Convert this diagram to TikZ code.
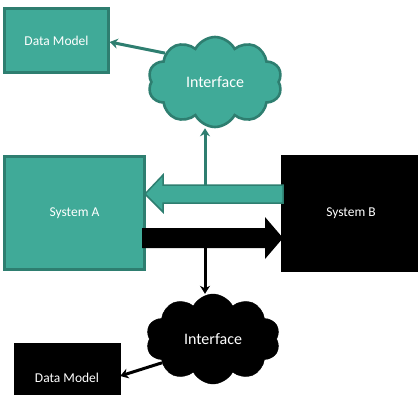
\documentclass[tikz,border=0pt]{standalone}
\usepackage{fontspec}
\setmainfont{Carlito}
\usetikzlibrary{arrows.meta,shapes.symbols}
\definecolor{tealfill}{HTML}{40AA98}
\definecolor{tealline}{HTML}{2E7E70}
\tikzset{
  tealbox/.style={draw=tealline, line width=2.4pt, fill=tealfill, text=white, font=\fontsize{13.5}{16}\selectfont, inner sep=0pt},
  blackbox/.style={draw=black, fill=black, text=white, font=\fontsize{13.5}{16}\selectfont, inner sep=0pt},
  cloudshape/.style={cloud, cloud puffs=10, cloud puff arc=125, cloud ignores aspect,
    minimum width=134pt, minimum height=90pt, inner sep=0pt, font=\fontsize{16}{19}\selectfont, text=white},
  tealcloud/.style={cloudshape, draw=tealline, line width=2.6pt, fill=tealfill},
  blackcloud/.style={cloudshape, draw=black, fill=black},
  conn/.style={line width=3pt, -{Stealth[length=8pt,width=10pt]}},
  blockarrow/.style={line width=1.5pt, line join=miter}
}
\begin{document}
\begin{tikzpicture}[x=1pt,y=-1pt]
\clip (0,0) rectangle (418,394);
\fill[white] (0,0) rectangle (418,394);

% boxes
\node[tealbox, minimum width=104pt, minimum height=64pt] (dmA) at (56.5,40.5) {Data Model};
\node[tealbox, minimum width=140pt, minimum height=113pt] (sysA) at (74.5,213) {System A};
\node[blackbox, minimum width=140pt, minimum height=116pt] (sysB) at (351,213) {System B};
\node[blackbox, minimum width=106pt, minimum height=70pt] (dmB) at (67,378) {Data Model};

% clouds
\node[tealcloud] (ifA) at (215,82) {Interface};
\node[blackcloud] (ifB) at (213,339) {Interface};

% block arrow from System B to System A
\coordinate (tA) at (145,194);
\filldraw[blockarrow, draw=tealline, fill=tealfill]
  (283,185) -- (163,185) -- (163,175) -- (tA) -- (163,212) -- (163,203) -- (283,203) -- cycle;
\coordinate (tTop) at (205,185);

% block arrow from System A to System B
\coordinate (tB) at (283,238);
\fill[black]
  (142,228) -- (265,228) -- (265,217) -- (tB) -- (265,259) -- (265,248) -- (142,248) -- cycle;
\coordinate (bBot) at (205,248);

% connectors
\draw[conn, tealline] (tTop) -- (ifA.south -| tTop);
\draw[conn, black] (bBot) -- (ifB.north -| bBot);
\draw[conn, tealline] (ifA.150) -- (dmA.east |- 0,42);
\draw[conn, black] (ifB.205) -- (dmB.east |- 0,376);
\end{tikzpicture}
\end{document}
